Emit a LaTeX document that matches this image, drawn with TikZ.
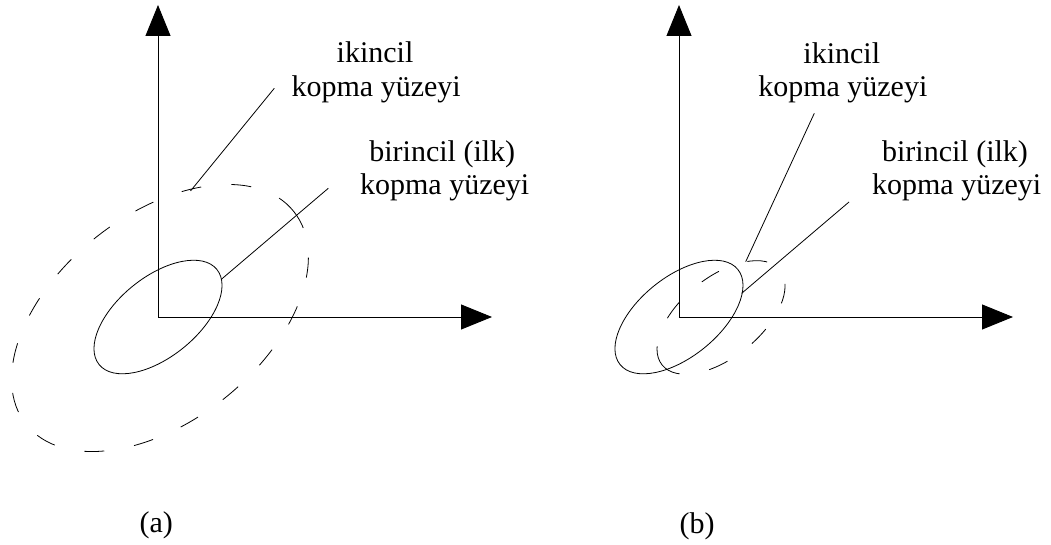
\documentclass[tikz,border=0pt]{standalone}
\usepackage{fontspec}
\setmainfont{Liberation Serif}
\usetikzlibrary{arrows.meta}
\begin{document}
\begin{tikzpicture}[x=1pt,y=1pt,
  lbl/.style={inner sep=0pt, anchor=base, font=\fontsize{30}{36}\selectfont},
  axis/.style={line width=0.9pt, -{Triangle[length=31pt,width=25pt]}},
  thinline/.style={line width=0.8pt},
  dsh/.style={line width=0.8pt, dash pattern=on 20pt off 30.3pt}]
\useasboundingbox (0,0) rectangle (1051,545);
% ---------- panel (a) ----------
\coordinate (O1) at (158,228);
\coordinate (Y1) at (158,540);
\coordinate (X1) at (492,228);
\draw[axis] (O1) -- (Y1);
\draw[axis] (O1) -- (X1);
\draw[thinline, rotate around={38.9:(O1)}] (O1) ellipse (75.7 and 39.9);
\coordinate (C1) at (160,227);
\draw[dsh, rotate around={38.5:(C1)}] (C1) ellipse (171 and 103);
\node[lbl] (ik1a) at (375,482) {ikincil};
\node[lbl] (ik1b) at (376.2,448.5) {kopma yüzeyi};
\node[lbl] (bi1a) at (442.3,383.3) {birincil (ilk)};
\node[lbl] (bi1b) at (444.7,350) {kopma yüzeyi};
\coordinate (L1s) at (274.3,456.7);
\coordinate (L1e) at (190.5,354);
\coordinate (M1s) at (328.3,356.7);
\coordinate (M1e) at (221.7,266);
\draw[thinline] (L1s) -- (L1e);
\draw[thinline] (M1s) -- (M1e);
\node[lbl] (capa) at (156.3,12) {(a)};
% ---------- panel (b) ----------
\coordinate (O2) at (679,228);
\coordinate (Y2) at (679,540);
\coordinate (X2) at (1013,228);
\draw[axis] (O2) -- (Y2);
\draw[axis] (O2) -- (X2);
\draw[thinline, rotate around={38.9:(O2)}] (O2) ellipse (75.7 and 39.9);
\coordinate (C2) at (721,227.5);
\draw[dsh, rotate around={218.9:(C2)}] (C2) ellipse (75.7 and 39.9);
\node[lbl] (ik2a) at (841.8,481) {ikincil};
\node[lbl] (ik2b) at (842.8,448.3) {kopma yüzeyi};
\node[lbl] (bi2a) at (955,383.3) {birincil (ilk)};
\node[lbl] (bi2b) at (956.7,350) {kopma yüzeyi};
\coordinate (L2s) at (814.3,431.7);
\coordinate (L2e) at (745.7,283.3);
\coordinate (M2s) at (849,343);
\coordinate (M2e) at (741.7,251.7);
\draw[thinline] (L2s) -- (L2e);
\draw[thinline] (M2s) -- (M2e);
\node[lbl] (capb) at (697,11) {(b)};
\end{tikzpicture}
\end{document}
